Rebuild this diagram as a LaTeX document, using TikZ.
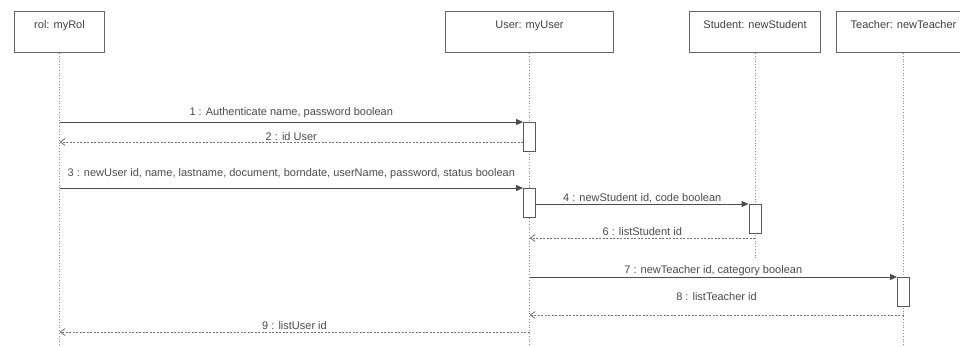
\documentclass[tikz,border=0pt]{standalone}
\usepackage{fontspec}
\setmainfont{Liberation Sans}
\usetikzlibrary{positioning,arrows.meta}

\begin{document}
\begin{tikzpicture}[
  x = 1pt, y = -1pt, font = \fontsize{11}{13}\selectfont,
  obj/.style   = {rectangle, draw=black!60, line width=1pt, anchor=north west,
                  minimum height=41pt, inner sep=0pt,
                  label={[anchor=north, text=black!75, yshift=-6pt]north:#1}},
  act/.style   = {rectangle, draw=black!65, fill=white, line width=0.9pt, anchor=north,
                  minimum width=12pt, minimum height=29pt, inner sep=0pt},
  life/.style  = {draw=black!45, dotted, line width=0.8pt},
  msg/.style   = {midway, above, text=black!70, inner sep=2pt},
  call/.style  = {draw=black!70, line width=0.9pt, -{Triangle[length=7pt, width=6pt]}},
  back/.style  = {draw=black!55, dashed, dash pattern=on 2pt off 1.5pt, line width=0.8pt,
                  -{Straight Barb[length=5pt, width=7pt]}}
]
\clip (0,0) rectangle (960,347);
\fill[white] (0,0) rectangle (960,347);
% objects
\node[obj=rol: myRol, minimum width=90pt]                (rol) at (14,11)  {};
\node[obj=User: myUser, minimum width=168pt]             (usr) at (445,11) {};
\node[obj=Student: newStudent, minimum width=131pt]      (stu) at (689,11) {};
\node[obj=Teacher: newTeacher, minimum width=134pt]      (tea) at (836,11) {};
% lifelines
\coordinate (rolEnd) at (rol.south |- 0,347);
\coordinate (usrEnd) at (usr.south |- 0,347);
\coordinate (stuEnd) at (stu.south |- 0,258);
\coordinate (teaEnd) at (tea.south |- 0,347);
\draw[life] (rol.south) -- (rolEnd);
\draw[life] (usr.south) -- (usrEnd);
\draw[life] (stu.south) -- (stuEnd);
\draw[life] (tea.south) -- (teaEnd);
% activations
\node[act] (a1) at (usr.south |- 0,122) {};
\node[act] (a2) at (usr.south |- 0,188) {};
\node[act] (a3) at (stu.south |- 0,204) {};
\node[act] (a4) at (tea.south |- 0,277) {};
% message ends
\coordinate (m1) at (rol.south |- a1.north);
\coordinate (m2a) at (a1.west |- 0,142);
\coordinate (m2b) at (rol.south |- m2a);
\coordinate (m3) at (rol.south |- a2.north);
\coordinate (m4) at (a2.east |- a3.north);
\coordinate (m6a) at (stu.south |- 0,238);
\coordinate (m6b) at (usr.south |- m6a);
\coordinate (m7) at (usr.south |- a4.north);
\coordinate (m8a) at (tea.south |- 0,315);
\coordinate (m8b) at (usr.south |- m8a);
\coordinate (m9a) at (usr.south |- 0,332);
\coordinate (m9b) at (rol.south |- m9a);
% messages
\draw[call] (m1)  -- node[msg, yshift=2pt]{1 : Authenticate name, password boolean} (a1.north west);
\draw[back] (m2a) -- node[msg, yshift=-1pt]{2 : id User} (m2b);
\draw[call] (m3)  -- node[msg, yshift=7pt]{3 : newUser id, name, lastname, document, borndate, userName, password, status boolean} (a2.north west);
\draw[call] (m4)  -- node[msg, yshift=-1pt]{4 : newStudent id, code boolean} (a3.north west);
\draw[back] (m6a) -- node[msg]{6 : listStudent id} (m6b);
\draw[call] (m7)  -- node[msg, yshift=-1pt]{7 : newTeacher id, category boolean} (a4.north west);
\draw[back] (m8a) -- node[msg, yshift=12pt]{8 : listTeacher id} (m8b);
\draw[back] (m9a) -- node[msg]{9 : listUser id} (m9b);
\end{tikzpicture}
\end{document}
